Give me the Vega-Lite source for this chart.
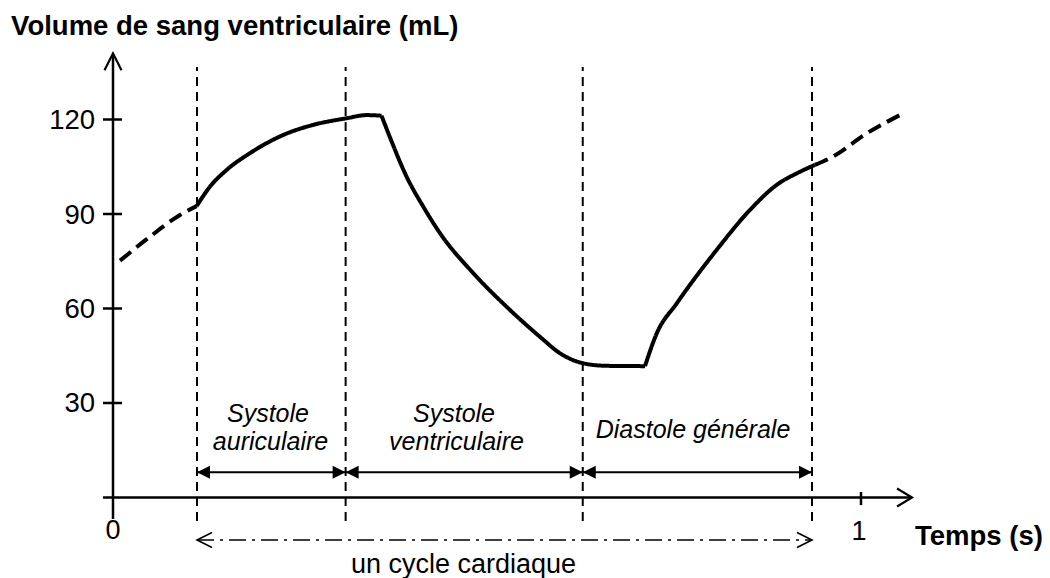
{
  "$schema": "https://vega.github.io/schema/vega-lite/v6.json",
  "width": 1050,
  "height": 578,
  "autosize": "none",
  "padding": 0,
  "background": "white",
  "config": {"view": {"stroke": null}, "font": "Liberation Sans"},
  "encoding": {
    "x": {"field": "t", "type": "quantitative", "axis": null, "scale": {"domain": [-0.15107, 1.25267], "nice": false, "zero": false}},
    "y": {"field": "v", "type": "quantitative", "axis": null, "scale": {"domain": [-25.556, 157.937], "nice": false, "zero": false}}
  },
  "layer": [
    {
      "data": {"values": [
        {"t": 0.1123, "t2": 0.1123, "v": -7.5, "v2": 136.7},
        {"t": 0.311, "t2": 0.311, "v": -7.5, "v2": 136.7},
        {"t": 0.628, "t2": 0.628, "v": -7.5, "v2": 136.7},
        {"t": 0.9345, "t2": 0.9345, "v": -7.5, "v2": 136.7}
      ]},
      "mark": {"type": "rule", "color": "black", "strokeWidth": 2, "strokeDash": [9, 6]},
      "encoding": {"x2": {"field": "t2"}, "y2": {"field": "v2"}}
    },
    {
      "data": {"values": [
        {"part": "xaxis", "t": -0.0134, "t2": 1.066, "v": 0, "v2": 0},
        {"part": "yaxis", "t": 0, "t2": 0, "v": -6.8, "v2": 140.6},
        {"part": "tick", "t": -0.0134, "t2": 0.012, "v": 30, "v2": 30},
        {"part": "tick", "t": -0.0134, "t2": 0.012, "v": 60, "v2": 60},
        {"part": "tick", "t": -0.0134, "t2": 0.012, "v": 90, "v2": 90},
        {"part": "tick", "t": -0.0134, "t2": 0.012, "v": 120, "v2": 120},
        {"part": "tick", "t": 1, "t2": 1, "v": 1.75, "v2": -2.4}
      ]},
      "mark": {"type": "rule", "color": "black", "strokeWidth": 2.5},
      "encoding": {"x2": {"field": "t2"}, "y2": {"field": "v2"}}
    },
    {
      "data": {"values": [
        {"t": 0, "v": 141.0, "dir": "up"},
        {"t": 1.0682, "v": 0, "dir": "right"}
      ]},
      "mark": {"type": "point", "filled": false, "color": "black", "strokeWidth": 2.2, "size": 289, "opacity": 1},
      "encoding": {
        "shape": {"field": "dir", "type": "nominal", "legend": null, "scale": {"domain": ["up", "right", "fL", "fR", "oL", "oR"], "range": ["M-1,2L0,0L1,2", "M-1.76,-1.06L0,0L-1.76,1.06", "M0,0L2,-1L2,1Z", "M0,0L-2,-1L-2,1Z", "M2,-1L0,0L2,1", "M-2,-1L0,0L-2,1"]}}
      }
    },
    {
      "data": {"values": [
        {"t": 0.1123, "t2": 0.311, "v": 8.0, "v2": 8.0},
        {"t": 0.311, "t2": 0.628, "v": 8.0, "v2": 8.0},
        {"t": 0.628, "t2": 0.9345, "v": 8.0, "v2": 8.0}
      ]},
      "mark": {"type": "rule", "color": "black", "strokeWidth": 2},
      "encoding": {"x2": {"field": "t2"}, "y2": {"field": "v2"}}
    },
    {
      "data": {"values": [
        {"t": 0.1123, "v": 8.0, "dir": "fL"},
        {"t": 0.311, "v": 8.0, "dir": "fR"},
        {"t": 0.311, "v": 8.0, "dir": "fL"},
        {"t": 0.628, "v": 8.0, "dir": "fR"},
        {"t": 0.628, "v": 8.0, "dir": "fL"},
        {"t": 0.9345, "v": 8.0, "dir": "fR"}
      ]},
      "mark": {"type": "point", "filled": true, "color": "black", "size": 169, "opacity": 1},
      "encoding": {
        "shape": {"field": "dir", "type": "nominal", "legend": null, "scale": {"domain": ["up", "right", "fL", "fR", "oL", "oR"], "range": ["M-1,2L0,0L1,2", "M-1.76,-1.06L0,0L-1.76,1.06", "M0,0L2,-1L2,1Z", "M0,0L-2,-1L-2,1Z", "M2,-1L0,0L2,1", "M-2,-1L0,0L-2,1"]}}
      }
    },
    {
      "data": {"values": [
        {"t": 0.1123, "t2": 0.9345, "v": -13.5, "v2": -13.5}
      ]},
      "mark": {"type": "rule", "color": "black", "strokeWidth": 1.5, "strokeDash": [17, 6, 3, 6]},
      "encoding": {"x2": {"field": "t2"}, "y2": {"field": "v2"}}
    },
    {
      "data": {"values": [
        {"t": 0.1123, "v": -13.5, "dir": "oL"},
        {"t": 0.9345, "v": -13.5, "dir": "oR"}
      ]},
      "mark": {"type": "point", "filled": false, "color": "black", "strokeWidth": 1.6, "size": 225, "opacity": 1},
      "encoding": {
        "shape": {"field": "dir", "type": "nominal", "legend": null, "scale": {"domain": ["up", "right", "fL", "fR", "oL", "oR"], "range": ["M-1,2L0,0L1,2", "M-1.76,-1.06L0,0L-1.76,1.06", "M0,0L2,-1L2,1Z", "M0,0L-2,-1L-2,1Z", "M2,-1L0,0L2,1", "M-2,-1L0,0L-2,1"]}}
      }
    },
    {
      "data": {"values": [
        {"seg": "A", "style": "dashed", "t": 0.0094, "v": 75.2},
        {"seg": "A", "style": "dashed", "t": 0.0495, "v": 82.8},
        {"seg": "A", "style": "dashed", "t": 0.0896, "v": 89.7},
        {"seg": "A", "style": "dashed", "t": 0.1118, "v": 92.5},
        {"seg": "B", "style": "solid", "t": 0.1118, "v": 92.5},
        {"seg": "B", "style": "solid", "t": 0.1297, "v": 98.7},
        {"seg": "B", "style": "solid", "t": 0.152, "v": 104.0},
        {"seg": "B", "style": "solid", "t": 0.183, "v": 109.3},
        {"seg": "B", "style": "solid", "t": 0.2277, "v": 115.1},
        {"seg": "B", "style": "solid", "t": 0.2678, "v": 118.3},
        {"seg": "B", "style": "solid", "t": 0.3124, "v": 120.4},
        {"seg": "B", "style": "solid", "t": 0.339, "v": 121.4},
        {"seg": "B", "style": "solid", "t": 0.359, "v": 121.2},
        {"seg": "C", "style": "solid", "t": 0.359, "v": 121.2},
        {"seg": "C", "style": "solid", "t": 0.370, "v": 114.5},
        {"seg": "C", "style": "solid", "t": 0.3926, "v": 101.8},
        {"seg": "C", "style": "solid", "t": 0.4149, "v": 92.3},
        {"seg": "C", "style": "solid", "t": 0.4372, "v": 83.9},
        {"seg": "C", "style": "solid", "t": 0.4817, "v": 71.2},
        {"seg": "C", "style": "solid", "t": 0.526, "v": 60.6},
        {"seg": "C", "style": "solid", "t": 0.5709, "v": 51.0},
        {"seg": "C", "style": "solid", "t": 0.5976, "v": 45.8},
        {"seg": "C", "style": "solid", "t": 0.6288, "v": 42.6},
        {"seg": "C", "style": "solid", "t": 0.66, "v": 41.8},
        {"seg": "C", "style": "solid", "t": 0.7112, "v": 41.7},
        {"seg": "D", "style": "solid", "t": 0.7112, "v": 41.7},
        {"seg": "D", "style": "solid", "t": 0.7269, "v": 52.1},
        {"seg": "D", "style": "solid", "t": 0.7536, "v": 61.6},
        {"seg": "D", "style": "solid", "t": 0.807, "v": 78.6},
        {"seg": "D", "style": "solid", "t": 0.8516, "v": 91.3},
        {"seg": "D", "style": "solid", "t": 0.887, "v": 99.2},
        {"seg": "D", "style": "solid", "t": 0.9184, "v": 103.4},
        {"seg": "D", "style": "solid", "t": 0.9385, "v": 105.6},
        {"seg": "E", "style": "dashed", "t": 0.9385, "v": 105.6},
        {"seg": "E", "style": "dashed", "t": 0.9623, "v": 108.2},
        {"seg": "E", "style": "dashed", "t": 1.0076, "v": 115.6},
        {"seg": "E", "style": "dashed", "t": 1.052, "v": 121.4}
      ]},
      "mark": {"type": "line", "color": "black", "strokeWidth": 4, "interpolate": "monotone", "strokeJoin": "round"},
      "encoding": {
        "detail": {"field": "seg", "type": "nominal"},
        "strokeDash": {"field": "style", "type": "nominal", "legend": null, "scale": {"domain": ["solid", "dashed"], "range": [[1, 0], [14, 7]]}},
        "order": {"field": "t", "type": "quantitative"}
      }
    },
    {
      "data": {"values": [
        {"t": -0.024, "v": 30, "label": "30"},
        {"t": -0.024, "v": 60, "label": "60"},
        {"t": -0.024, "v": 90, "label": "90"},
        {"t": -0.024, "v": 120, "label": "120"}
      ]},
      "mark": {"type": "text", "align": "right", "baseline": "alphabetic", "dy": 9.5, "fontSize": 27.5, "color": "black"},
      "encoding": {"text": {"field": "label"}}
    },
    {
      "data": {"values": [
        {"t": 0, "v": -13.2, "label": "0"},
        {"t": 0.9975, "v": -13.5, "label": "1"}
      ]},
      "mark": {"type": "text", "align": "center", "baseline": "alphabetic", "fontSize": 27, "color": "black"},
      "encoding": {"text": {"field": "label"}}
    },
    {
      "data": {"values": [
        {"t": 1.0722, "v": -15.2, "label": "Temps (s)"},
        {"t": -0.1362, "v": 146.8, "label": "Volume de sang ventriculaire (mL)"}
      ]},
      "mark": {"type": "text", "align": "left", "baseline": "alphabetic", "fontSize": 27.5, "fontWeight": "bold", "color": "black"},
      "encoding": {"text": {"field": "label"}}
    },
    {
      "data": {"values": [
        {"t": 0.2072, "v": 24.0, "label": "Systole"},
        {"t": 0.2106, "v": 15.0, "label": "auriculaire"},
        {"t": 0.4559, "v": 24.0, "label": "Systole"},
        {"t": 0.4592, "v": 15.0, "label": "ventriculaire"},
        {"t": 0.7754, "v": 19.0, "label": "Diastole générale"}
      ]},
      "mark": {"type": "text", "align": "center", "baseline": "alphabetic", "fontSize": 25, "fontStyle": "italic", "color": "black"},
      "encoding": {"text": {"field": "label"}}
    },
    {
      "data": {"values": [
        {"t": 0.4686, "v": -24.0, "label": "un cycle cardiaque"}
      ]},
      "mark": {"type": "text", "align": "center", "baseline": "alphabetic", "fontSize": 27, "color": "black"},
      "encoding": {"text": {"field": "label"}}
    }
  ]
}
